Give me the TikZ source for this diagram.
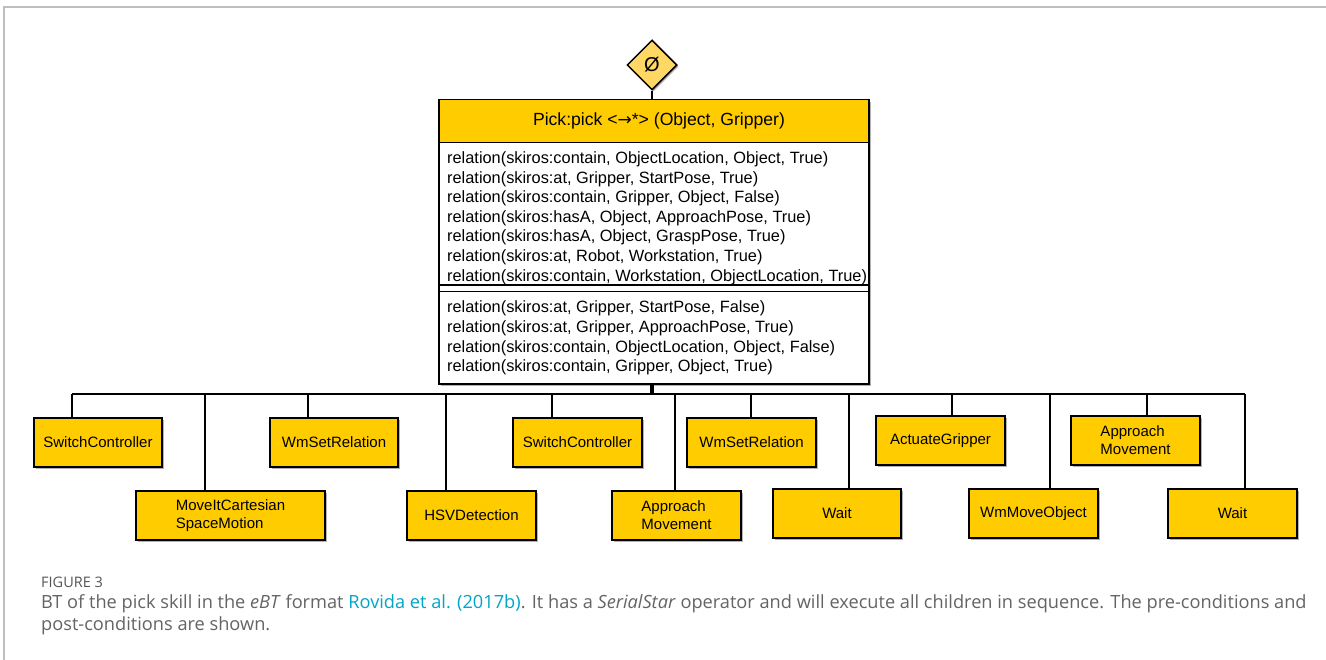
\documentclass[tikz,border=0pt]{standalone}
\usepackage{fontspec}
\setmainfont{Liberation Sans}
\newfontfamily\capfont{Open Sans}
\newfontfamily\arrowfont{DejaVu Sans}
\usetikzlibrary{shadows,shapes.geometric,calc}
\definecolor{boxfill}{RGB}{255,204,0}
\definecolor{opfill}{RGB}{255,215,100}
\definecolor{capgray}{RGB}{100,100,100}
\definecolor{figgray}{RGB}{85,85,85}
\definecolor{linkcyan}{RGB}{0,166,200}
\definecolor{framegray}{RGB}{190,190,190}
\begin{document}
\begin{tikzpicture}[x=1pt,y=-1pt,
  boxshadow/.style={drop shadow={shadow xshift=1.6pt, shadow yshift=-1.6pt, fill=black, opacity=0.3}},
  leaf/.style={draw=black, line width=1.6pt, fill=boxfill, inner sep=0pt, minimum width=128pt, minimum height=49pt, font=\fontsize{15}{18}\selectfont, align=left, boxshadow},
  conn/.style={draw=black, line width=1.5pt},
  bus/.style={draw=black, line width=2pt},
  reltext/.style={anchor=base west, inner sep=0pt, font=\fontsize{16.35}{19.6}\selectfont},
  captext/.style={anchor=base west, inner sep=0pt, text=capgray, font=\capfont\fontsize{18.2}{22}\selectfont}]
\useasboundingbox (0,0) rectangle (1326,660);
\fill[white] (0,0) rectangle (1326,660);
% frame
\draw[framegray, line width=1.2pt] (4,660) -- (4,7) -- (1326,7);

% operator
\node[draw=black, line width=1.5pt, fill=opfill, diamond, aspect=1, minimum size=50pt, inner sep=0pt, boxshadow] (op) at (652,65) {\fontsize{20}{20}\selectfont Ø};

% main box
\node[draw=black, line width=2.2pt, fill=white, minimum width=430pt, minimum height=284pt, inner sep=0pt, boxshadow] (main) at (654,242) {};
\node[draw=black, line width=1.5pt, fill=boxfill, minimum width=430pt, minimum height=43pt, inner sep=0pt, anchor=north] (title) at (main.north) {};
\node[font=\fontsize{17.6}{20}\selectfont, inner sep=0pt] (titletext) at (659,121) {Pick:pick <{\arrowfont\fontsize{17}{17}\selectfont →}*> (Object, Gripper)};
\draw[conn] (op.south) -- (op.south |- main.north);

\foreach \t [count=\i] in {
  {relation(skiros:contain, ObjectLocation, Object, True)},
  {relation(skiros:at, Gripper, StartPose, True)},
  {relation(skiros:contain, Gripper, Object, False)},
  {relation(skiros:hasA, Object, ApproachPose, True)},
  {relation(skiros:hasA, Object, GraspPose, True)},
  {relation(skiros:at, Robot, Workstation, True)},
  {relation(skiros:contain, Workstation, ObjectLocation, True)}}
  \node[reltext] (pre\i) at (447,{163.5+19.6*(\i-1)}) {\t};

\coordinate (d1) at (654,285);
\coordinate (d2) at (654,291.5);
\draw[line width=1.5pt] (main.west |- d1) -- (main.east |- d1);
\draw[line width=1.5pt] (main.west |- d2) -- (main.east |- d2);

\foreach \t [count=\i] in {
  {relation(skiros:at, Gripper, StartPose, False)},
  {relation(skiros:at, Gripper, ApproachPose, True)},
  {relation(skiros:contain, ObjectLocation, Object, False)},
  {relation(skiros:contain, Gripper, Object, True)}}
  \node[reltext] (post\i) at (447,{313+19.6*(\i-1)}) {\t};

% children
\node[leaf] (c1) at (98,442.5) {SwitchController};
\node[leaf, minimum width=189pt] (c2) at (230.5,515.5) {MoveItCartesian\\SpaceMotion};
\node[leaf] (c3) at (334,442.5) {WmSetRelation};
\node[leaf, minimum width=129pt] (c4) at (471.5,515.5) {HSVDetection};
\node[leaf, minimum width=129pt] (c5) at (577.5,442.5) {SwitchController};
\node[leaf, minimum width=129pt] (c6) at (676.5,515.5) {Approach\\Movement};
\node[leaf, minimum width=129pt] (c7) at (751.5,442.5) {WmSetRelation};
\node[leaf] (c8) at (837,513.5) {Wait};
\node[leaf, minimum width=129pt] (c9) at (940.5,440.5) {ActuateGripper};
\node[leaf, minimum width=129pt] (c10) at (1033.5,513.5) {WmMoveObject};
\node[leaf, minimum width=129pt] (c11) at (1135.5,440.5) {Approach\\Movement};
\node[leaf, minimum width=129pt] (c12) at (1232.5,513.5) {Wait};

% bus
\coordinate (sm) at (652,394);
\foreach \x [count=\i] in {72,205,308,446,552,675,751,849,952,1050,1147,1245}
  \coordinate (s\i) at (\x,394);
\draw[line width=3.5pt] (sm |- main.south) -- (sm);
\draw[bus] (s1) -- (s12);
\foreach \i in {1,...,12}
  \draw[conn] (s\i) -- (s\i |- c\i.north);

% caption
\node[captext, text=figgray, font=\capfont\fontsize{14.5}{16}\selectfont] (fig) at (41,587) {FIGURE 3};
\node[captext] (cap1) at (41,608) {BT of the pick skill in the \textit{eBT} format \textcolor{linkcyan}{Rovida et al. (2017b)}. It has a \textit{SerialStar} operator and will execute all children in sequence. The pre-conditions and};
\node[captext] (cap2) at (41,630) {post-conditions are shown.};
\end{tikzpicture}
\end{document}
